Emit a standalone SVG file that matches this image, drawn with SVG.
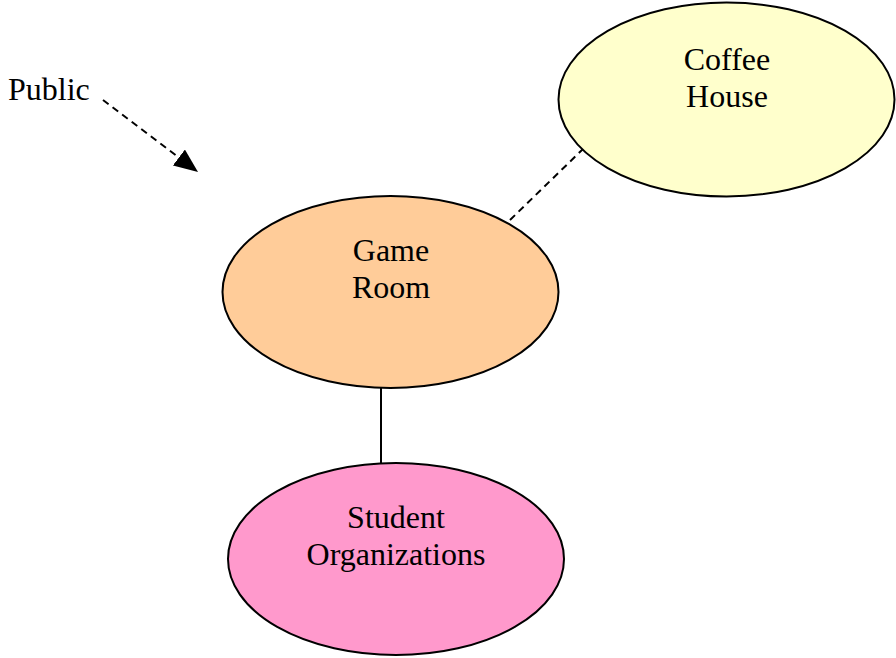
<svg xmlns="http://www.w3.org/2000/svg" width="896" height="658" viewBox="0 0 896 658">
  <style>
    .node { stroke: #000; stroke-width: 2; }
    .label { font-family: "Liberation Serif", "Times New Roman", serif; font-size: 32px; fill: #000; }
    .mid { text-anchor: middle; }
    .link { stroke: #000; stroke-width: 2; fill: none; }
    .dash { stroke-dasharray: 7 5; }
  </style>
  <defs>
    <marker id="tip" viewBox="0 0 24 20" refX="24" refY="10" markerWidth="24" markerHeight="20" markerUnits="userSpaceOnUse" orient="auto">
      <path d="M0,0 L24,10 L0,20 Z" fill="#000"/>
    </marker>
  </defs>
  <rect width="896" height="658" fill="#fff"/>

  <g id="connectors">
    <line class="link dash" x1="103" y1="100" x2="198" y2="172" marker-end="url(#tip)"/>
    <line class="link dash" x1="510" y1="220" x2="583" y2="149"/>
    <line class="link" x1="381" y1="385" x2="381" y2="464"/>
  </g>

  <g id="public">
    <text class="label" x="8" y="100">Public</text>
  </g>

  <g id="coffee-house">
    <ellipse class="node" cx="726.5" cy="99.5" rx="168" ry="97" fill="#ffffcc"/>
    <text class="label mid" x="727" y="70">Coffee</text>
    <text class="label mid" x="727" y="107">House</text>
  </g>

  <g id="game-room">
    <ellipse class="node" cx="390.5" cy="292" rx="168" ry="96" fill="#ffcc99"/>
    <text class="label mid" x="391" y="261">Game</text>
    <text class="label mid" x="391" y="298">Room</text>
  </g>

  <g id="student-organizations">
    <ellipse class="node" cx="396" cy="559" rx="168" ry="96" fill="#ff99cc"/>
    <text class="label mid" x="396" y="528">Student</text>
    <text class="label mid" x="396" y="565">Organizations</text>
  </g>
</svg>
